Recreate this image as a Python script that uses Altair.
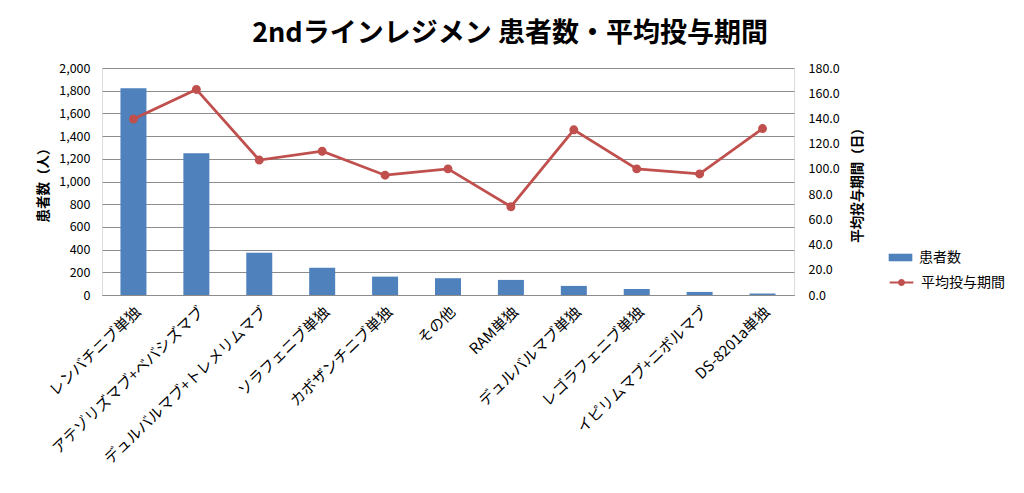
import altair as alt
import pandas as pd

categories = [
    "レンバチニブ単独", "アテゾリズマブ+ベバシズマブ", "デュルバルマブ+トレメリムマブ",
    "ソラフェニブ単独", "カボザンチニブ単独", "その他", "RAM単独",
    "デュルバルマブ単独", "レゴラフェニブ単独", "イピリムマブ+ニボルマブ", "DS-8201a単独",
]
patients = [1822, 1250, 372, 240, 162, 148, 133, 80, 53, 27, 13]
avg_days = [139.5, 163.0, 107.0, 114.0, 95.0, 100.0, 70.0, 131.0, 100.0, 96.0, 132.0]
left_ticks = [0, 200, 400, 600, 800, 1000, 1200, 1400, 1600, 1800, 2000]
right_ticks = [0, 20, 40, 60, 80, 100, 120, 140, 160, 180]

df = pd.DataFrame({
    "cat": categories,
    "patients": patients,
    "days": avg_days,
    "s1": ["患者数"] * len(categories),
    "s2": ["平均投与期間"] * len(categories),
})

FONT = "Noto Sans CJK JP"
BLUE = "#4F81BD"
RED = "#C0504D"

x = alt.X("cat:N", sort=categories, title="",
          axis=alt.Axis(labelAngle=316, labelFontSize=15, labelColor="#000000",
                        labelFont=FONT, ticks=False,
                        domainColor="#8c8c8c", labelPadding=9, labelLimit=400))

bars = alt.Chart(df).mark_bar(size=26, color=BLUE).encode(
    x=x,
    y=alt.Y("patients:Q", title="患者数（人）",
            scale=alt.Scale(domain=[0, 2000]),
            axis=alt.Axis(values=left_ticks, format=",.0f",
                          labelFontSize=12.5, labelColor="#000000", labelFont=FONT,
                          labelPadding=12,
                          titleFont=FONT, titleFontSize=13.5, titleFontWeight="bold",
                          titleColor="#000000", ticks=False, domain=False,
                          gridColor="#8c8c8c", titlePadding=8)),
    fill=alt.Fill("s1:N", scale=alt.Scale(range=[BLUE]),
                  legend=alt.Legend(title=None, symbolType="M-1.4,-0.45L1.4,-0.45L1.4,0.45L-1.4,0.45Z",
                                    symbolSize=285, labelFontSize=14, labelFont=FONT,
                                    labelColor="#000000", symbolStrokeWidth=0, orient="none",
                                    labelOffset=10, legendX=790, legendY=181)),
)

line = alt.Chart(df).mark_line(color=RED, strokeWidth=2.8,
                               point=alt.OverlayMarkDef(color=RED, size=48, filled=True)).encode(
    x=x,
    y=alt.Y("days:Q", title="平均投与期間（日）",
            scale=alt.Scale(domain=[0, 180]),
            axis=alt.Axis(orient="right", values=right_ticks, format=".1f",
                          labelFontSize=12.5, labelColor="#000000", labelFont=FONT,
                          labelPadding=14,
                          titleFont=FONT, titleFontSize=13.5, titleFontWeight="bold",
                          titleColor="#000000", ticks=False, domain=False, grid=False,
                          titleAngle=270, titleBaseline="top", titlePadding=11)),
    stroke=alt.Stroke("s2:N", scale=alt.Scale(range=[RED]),
                      legend=alt.Legend(title=None,
                                        symbolType="M-1.4,0L1.4,0M0.3,0A0.3,0.3,0,1,1,-0.3,0A0.3,0.3,0,1,1,0.3,0",
                                        symbolSize=285, symbolFillColor=RED, symbolStrokeWidth=2,
                                        labelFontSize=14, labelFont=FONT, labelColor="#000000",
                                        labelOffset=10,
                                        orient="none", legendX=790, legendY=205)),
)

chart = alt.layer(bars, line).resolve_scale(y="independent", fill="independent", stroke="independent").properties(
    width=692, height=227,
    title=alt.Title("2ndラインレジメン 患者数・平均投与期間", font=FONT, fontSize=27,
                    fontWeight="bold", color="#000000", anchor="middle", dx=62, offset=14),
    padding={"left": 28, "top": 12, "right": 5, "bottom": 5},
).configure_view(stroke="#8c8c8c", strokeWidth=1).configure(background="white")

chart.save("out.html", embed_options={"renderer": "svg", "actions": False})
